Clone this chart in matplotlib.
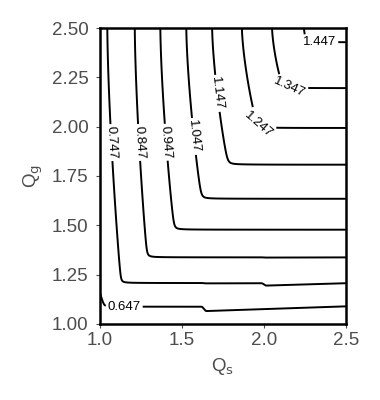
import numpy as np
import matplotlib
matplotlib.use("Agg")
import matplotlib.pyplot as plt

plt.rcParams['font.family'] = ['Liberation Sans', 'DejaVu Sans']

# ---- data ----
levels = [0.647, 0.747, 0.847, 0.947, 1.047, 1.147, 1.247, 1.347, 1.447]
# x of vertical arm of each level at the top edge (Qg = 2.5) and just above its corner
x_arm_top = [0.700, 1.077, 1.226, 1.382, 1.540, 1.697, 1.880, 2.063, 2.255]
x_arm_corner = [1.030, 1.140, 1.300, 1.465, 1.630, 1.790, 1.970, 2.120, 2.260]
# Qg of horizontal arm: left part, just after step, at right edge; Qs of the step
y_arm_left = [1.097, 1.217, 1.348, 1.489, 1.647, 1.821, 2.008, 2.211, 2.445]
y_arm_after_step = [1.075, 1.204, 1.348, 1.489, 1.647, 1.821, 2.008, 2.211, 2.445]
y_arm_right = [1.099, 1.216, 1.348, 1.489, 1.647, 1.821, 2.008, 2.211, 2.445]
step_qs = [1.635, 2.000, 2.5, 2.5, 2.5, 2.5, 2.5, 2.5, 2.5]
xticks = [1.0, 1.5, 2.0, 2.5]
yticks = [1.00, 1.25, 1.50, 1.75, 2.00, 2.25, 2.50]

# ---- build field from the arms ----
qs = np.linspace(0.96, 2.54, 400)
qg = np.linspace(0.96, 2.54, 400)
X, Y = np.meshgrid(qs, qg)
lv = np.array(levels)
lv_ext = np.concatenate([[lv[0] - 0.1], lv, [lv[-1] + 0.1]])

FX = np.zeros_like(X)
for i, yy in enumerate(qg):
    xs = []
    for k in range(len(levels)):
        t = np.clip((2.5 - yy) / (2.5 - y_arm_left[k]), 0, 1)
        xs.append(x_arm_top[k] + (x_arm_corner[k] - x_arm_top[k]) * t ** 1.5)
    xs = np.concatenate([[xs[0] - 0.09], xs, [xs[-1] + 0.3]])
    FX[i, :] = np.interp(qs, xs, lv_ext)

FY = np.zeros_like(X)
for j, xx in enumerate(qs):
    ys = []
    for k in range(len(levels)):
        s = step_qs[k]
        if s >= 2.5:
            ys.append(y_arm_left[k])
        else:
            ys.append(np.interp(xx, [0.9, s - 0.012, s + 0.012, 2.6],
                                [y_arm_left[k], y_arm_left[k], y_arm_after_step[k],
                                 y_arm_after_step[k] + (y_arm_right[k] - y_arm_after_step[k]) * (2.6 - s - 0.012) / (2.5 - s - 0.012)]))
    ys = np.concatenate([[ys[0] - 0.12], ys, [ys[-1] + 0.2]])
    FY[:, j] = np.interp(qg, ys, lv_ext)

eps = 0.008
Z = 0.5 * (FX + FY) - np.sqrt((0.5 * (FX - FY)) ** 2 + eps ** 2) + eps

# ---- plot ----
fig = plt.figure(figsize=(3.8, 4.0), dpi=100)
ax = fig.add_axes([0.262, 0.19, 0.649, 0.74])
cs = ax.contour(X, Y, Z, levels=levels, colors='black', linewidths=1.4)
label_pos = [(1.15, 1.10), (1.09, 1.92), (1.24, 1.92), (1.39, 1.92), (1.57, 1.95),
             (1.73, 2.17), (1.98, 2.02), (2.16, 2.23), (2.34, 2.445)]
txts = ax.clabel(cs, fmt='%.3f', fontsize=9.5, inline=True, inline_spacing=1, manual=label_pos)
for t in txts:
    if t.get_text() in ('1.447', '0.647'):
        t.set_rotation(0)
ax.set_xlim(1.0, 2.5)
ax.set_ylim(1.0, 2.5)
ax.set_xticks(xticks)
ax.set_xticklabels(['%.1f' % v for v in xticks])
ax.set_yticks(yticks)
ax.set_yticklabels(['%.2f' % v for v in yticks])
gray = '#4D4D4D'
ax.tick_params(colors=gray, labelcolor=gray, labelsize=13.5, length=3, width=0.8, direction='out')
ax.tick_params(axis='y', pad=5)
ax.tick_params(axis='x', pad=3)
for sp in ax.spines.values():
    sp.set_linewidth(1.8)
    sp.set_color('black')
ax.set_xlabel('Q$_\\mathrm{s}$', fontsize=13.5, color=gray, labelpad=5)
ax.set_ylabel('Q$_\\mathrm{g}$', fontsize=13.5, color=gray, labelpad=5)
fig.savefig('out.png', dpi=100)
